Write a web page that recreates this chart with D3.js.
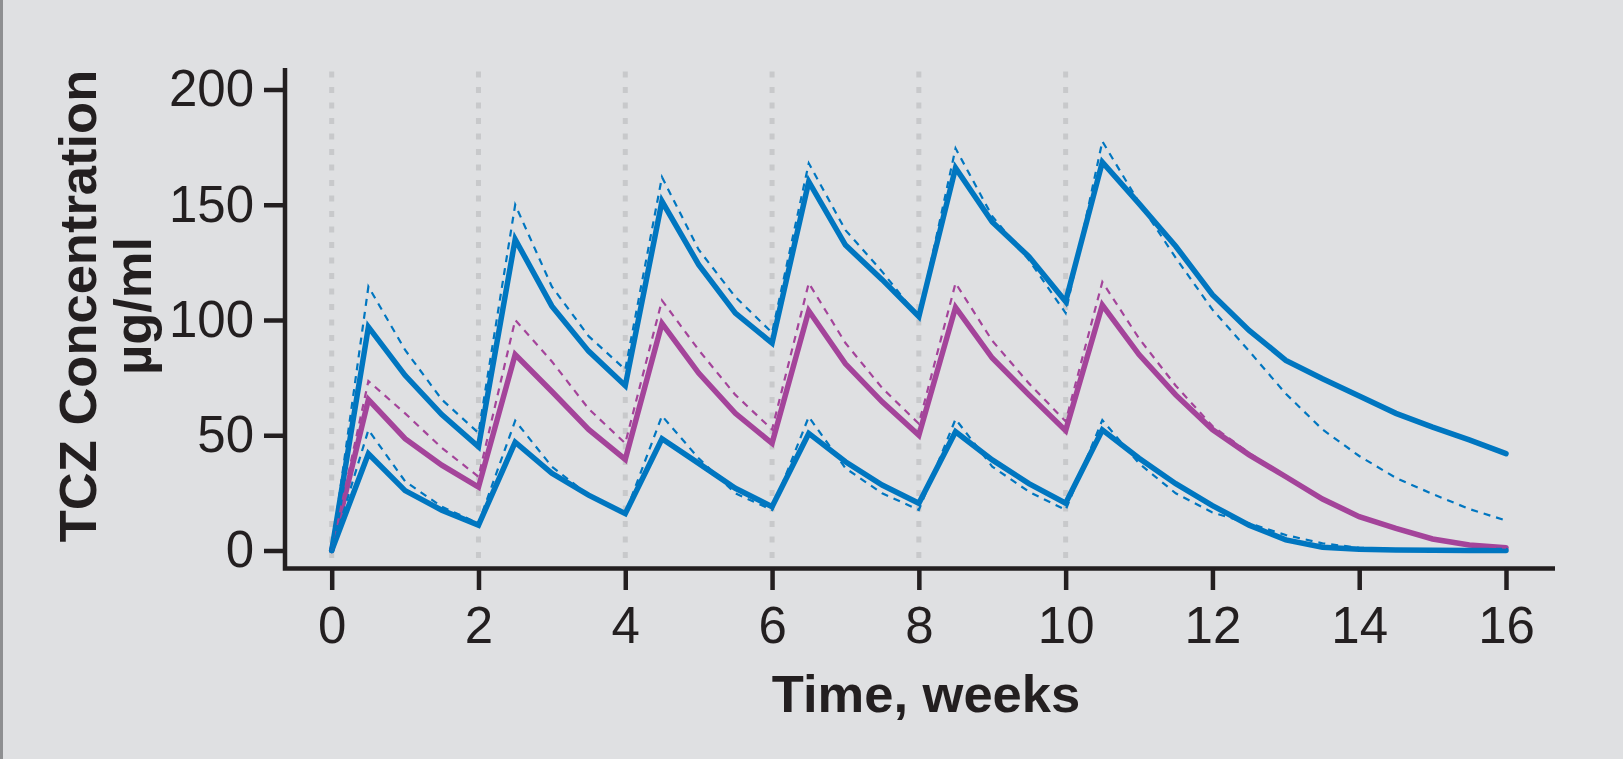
<!DOCTYPE html>
<html>
<head>
<meta charset="utf-8">
<script src="https://cdn.jsdelivr.net/npm/d3@7"></script>
<style>
  html, body { margin: 0; padding: 0; background: #dfe0e2; }
  svg { display: block; }
</style>
</head>
<body>
<div id="chart"></div>
<script>
// Time points (weeks), doses every 2 weeks up to week 10
const weeks = [0, 0.5, 1, 1.5, 2, 2.5, 3, 3.5, 4, 4.5, 5, 5.5, 6, 6.5, 7, 7.5, 8,
  8.5, 9, 9.5, 10, 10.5, 11, 11.5, 12, 12.5, 13, 13.5, 14, 14.5, 15, 15.5, 16];

// Dosing weeks shown as dotted guides
const doseWeeks = [0, 2, 4, 6, 8, 10];

// Simulated TCZ concentration, µg/ml
const upperSolid = [0, 97, 76, 59, 45, 135, 106, 86.5, 71.5, 151.5, 124, 103, 90,
  160, 132.5, 117.5, 101.5, 166, 142.5, 127.5, 108, 168.5, 150.5, 132, 111,
  95.5, 82.5, 74.5, 67, 59.5, 53.5, 48, 42];
const upperDashed = [0, 114.5, 87, 65.5, 51, 150, 114.5, 93, 78.5, 162, 130.5, 110, 94.5,
  168, 139, 121, 101, 174.5, 145, 126, 103, 177.5, 151, 127, 104.5,
  86.5, 68, 52.5, 41, 31.5, 24.5, 18, 13];
const medianSolid = [0, 65.5, 48.5, 37, 27.5, 85, 69, 52.5, 39.5, 98.5, 77, 59.5, 46.5,
  104, 81, 64.5, 50, 105.5, 83.5, 67.5, 52, 106.5, 85, 67.5, 52.5,
  41.5, 32, 22.3, 14.7, 9.6, 5, 2.4, 1.2];
const medianDashed = [0, 73.5, 59.5, 44.5, 32, 100, 82, 61.5, 46.5, 108.5, 87, 67.5, 52.5,
  116, 90, 70.5, 55, 116, 91, 72.5, 56, 116.5, 92, 71.5, 54,
  42.3, 32.3, 22.5, 15, 9.8, 5.2, 2.5, 1.2];
const lowerSolid = [0, 42, 26, 17.5, 11, 47, 33.5, 24, 16, 48.5, 37.8, 27, 19,
  50.8, 38.5, 28.4, 20.5, 51.5, 39.3, 29, 20.5, 52.3, 40, 29, 19.5,
  11, 4.6, 1.4, 0.5, 0.2, 0.1, 0, 0];
const lowerDashed = [0, 52.3, 30, 19, 11.8, 56.3, 36.4, 24, 16, 58.4, 40, 24.8, 17.6,
  58, 35.7, 24.8, 17.6, 57, 36.4, 25.5, 17.6, 56.6, 37.8, 24.8, 16.5,
  11.8, 6.7, 3.1, 1.2, 0.5, 0.2, 0.1, 0];

const yTicks = [0, 50, 100, 150, 200];
const xTicks = [0, 2, 4, 6, 8, 10, 12, 14, 16];

const BLUE = '#0076c0';
const MAGENTA = '#a4449a';
const INK = '#231f20';

const width = 1623;
const height = 759;

const svg = d3.select('#chart')
  .append('svg')
  .attr('width', width)
  .attr('height', height);

// Background and the grey strip on the left edge
svg.append('rect')
  .attr('width', width)
  .attr('height', height)
  .attr('fill', '#dfe0e2');
svg.append('rect')
  .attr('width', 3)
  .attr('height', height)
  .attr('fill', '#8e8f91');

const x = d3.scaleLinear().domain([0, 16]).range([331.7, 1506]);
const y = d3.scaleLinear().domain([0, 200]).range([550.5, 89.5]);

// Frame of the axes sits a little outside the data range
const axisLeftX = 285;
const axisBottomY = 568.5;
const axisTopY = 68;
const axisRightX = 1555;

// Dotted dose guides
svg.append('g')
  .selectAll('line')
  .data(doseWeeks)
  .join('line')
  .attr('x1', d => x(d))
  .attr('x2', d => x(d))
  .attr('y1', 71.5)
  .attr('y2', axisBottomY - 2)
  .attr('stroke', '#c8c9cb')
  .attr('stroke-width', 5)
  .attr('stroke-dasharray', '6,9.5');

const line = d3.line()
  .x((d, i) => x(weeks[i]))
  .y(d => y(d));

const series = [
  { values: medianSolid, color: MAGENTA, dashed: false },
  { values: upperSolid, color: BLUE, dashed: false },
  { values: lowerSolid, color: BLUE, dashed: false },
  { values: medianDashed, color: MAGENTA, dashed: true },
  { values: upperDashed, color: BLUE, dashed: true },
  { values: lowerDashed, color: BLUE, dashed: true }
];

svg.append('g')
  .attr('class', 'lines')
  .selectAll('path')
  .data(series)
  .join('path')
  .attr('d', d => line(d.values))
  .attr('fill', 'none')
  .attr('stroke', d => d.color)
  .attr('stroke-width', d => d.dashed ? 2.2 : 5.5)
  .attr('stroke-dasharray', d => d.dashed ? '7,6' : null)
  .attr('stroke-linecap', d => d.dashed ? 'butt' : 'round')
  .attr('stroke-linejoin', 'miter');

// Axis frame
svg.append('path')
  .attr('d', `M${axisLeftX},${axisTopY}V${axisBottomY}M${axisLeftX - 2.25},${axisBottomY}H${axisRightX}`)
  .attr('fill', 'none')
  .attr('stroke', INK)
  .attr('stroke-width', 4.5);

// Y axis ticks and labels
const yAxis = svg.append('g')
  .attr('transform', `translate(${axisLeftX},0)`)
  .call(d3.axisLeft(y).tickValues(yTicks).tickSize(21).tickPadding(10).tickFormat(d3.format('d')));

// X axis ticks and labels
const xAxis = svg.append('g')
  .attr('transform', `translate(0,${axisBottomY})`)
  .call(d3.axisBottom(x).tickValues(xTicks).tickSize(21.5).tickPadding(16.5).tickFormat(d3.format('d')));

[yAxis, xAxis].forEach(ax => {
  ax.select('.domain').remove();
  ax.selectAll('.tick line')
    .attr('stroke', INK)
    .attr('stroke-width', 4.5);
  ax.selectAll('.tick text')
    .attr('fill', INK)
    .attr('font-family', '"Liberation Sans", Arial, sans-serif')
    .attr('font-size', '51px');
});

// Axis titles
svg.append('text')
  .attr('x', 926)
  .attr('y', 711.5)
  .attr('text-anchor', 'middle')
  .attr('font-family', '"Liberation Sans", Arial, sans-serif')
  .attr('font-weight', 'bold')
  .attr('font-size', '52.5px')
  .attr('fill', INK)
  .text('Time, weeks');

const yTitle = [
  { text: 'TCZ Concentration', x: 96 },
  { text: 'µg/ml', x: 150.5 }
];

svg.append('g')
  .selectAll('text')
  .data(yTitle)
  .join('text')
  .attr('transform', d => `translate(${d.x},306) rotate(-90)`)
  .attr('text-anchor', 'middle')
  .attr('font-family', '"Liberation Sans", Arial, sans-serif')
  .attr('font-weight', 'bold')
  .attr('font-size', '52.5px')
  .attr('fill', INK)
  .text(d => d.text);
</script>
</body>
</html>
